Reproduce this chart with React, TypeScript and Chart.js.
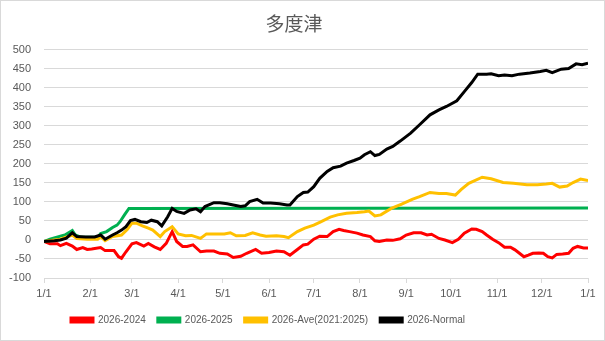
import React, { useEffect, useRef } from "react";
import { Chart, registerables } from "chart.js";

Chart.register(...registerables);

const monthStarts = [0, 31, 59, 90, 120, 151, 181, 212, 243, 273, 304, 334, 365];
const monthLabels = ["1/1", "2/1", "3/1", "4/1", "5/1", "6/1", "7/1", "8/1", "9/1", "10/1", "11/1", "12/1", "1/1"];

const seriesNames = ["2026-2024", "2026-2025", "2026-Ave(2021:2025)", "2026-Normal"];

const redDays = [0, 4, 9, 11, 15, 19, 22, 26, 29, 32, 38, 41, 47, 50, 52, 55, 59, 62, 67, 70, 74, 78, 82, 86, 89, 93, 96, 100, 105, 109, 114, 118, 123, 127, 132, 136, 142, 146, 151, 156, 161, 165, 170, 174, 177, 181, 185, 190, 194, 198, 201, 205, 210, 214, 219, 222, 225, 230, 234, 239, 243, 248, 253, 257, 260, 265, 269, 274, 278, 282, 287, 290, 294, 297, 301, 305, 309, 313, 316, 319, 322, 325, 328, 332, 335, 338, 341, 344, 348, 352, 355, 358, 362, 365];
const redValues = [-4, -10, -10, -15, -9, -16, -25, -20, -25, -24, -20, -28, -28, -44, -48, -31, -10, -7, -16, -9, -18, -25, -9, 22, -4, -17, -17, -13, -31, -29, -29, -35, -37, -46, -43, -35, -25, -35, -33, -29, -31, -40, -25, -13, -11, 2, 10, 9, 22, 28, 25, 22, 18, 13, 9, -2, -4, 0, -1, 3, 13, 19, 19, 13, 15, 4, 0, -7, 2, 18, 29, 28, 22, 13, 2, -7, -19, -19, -26, -35, -44, -40, -35, -34, -35, -44, -47, -38, -37, -35, -22, -17, -21, -21];

const greenDays = [0, 4, 11, 14, 19, 21, 25, 29, 36, 38, 42, 46, 49, 51, 54, 57, 365];
const greenValues = [-4, 2, 10, 13, 25, 13, 7, 7, 7, 17, 22, 33, 39, 48, 66, 83, 84];

const yellowDays = [0, 7, 11, 19, 22, 29, 36, 38, 41, 46, 52, 56, 59, 62, 66, 70, 73, 78, 81, 86, 90, 95, 99, 105, 109, 116, 121, 125, 129, 135, 140, 145, 149, 156, 161, 164, 170, 175, 181, 186, 192, 197, 203, 210, 215, 218, 222, 226, 233, 240, 247, 252, 259, 265, 270, 276, 280, 285, 294, 300, 308, 315, 324, 331, 337, 341, 346, 351, 355, 360, 365];
const yellowValues = [-4, 0, 2, 13, 4, 2, 2, 9, -2, 9, 13, 28, 44, 44, 37, 31, 26, 9, 22, 35, 16, 11, 12, 4, 16, 16, 16, 19, 11, 12, 19, 13, 10, 11, 9, 6, 22, 31, 39, 48, 60, 66, 70, 72, 74, 76, 63, 66, 83, 94, 107, 114, 125, 122, 122, 118, 133, 149, 165, 161, 151, 149, 145, 145, 147, 149, 139, 142, 151, 160, 156];

const blackDays = [0, 7, 11, 15, 19, 22, 28, 34, 38, 41, 46, 49, 52, 55, 58, 61, 65, 69, 72, 76, 79, 83, 86, 89, 94, 98, 102, 105, 108, 114, 118, 123, 127, 132, 135, 138, 143, 147, 152, 158, 163, 165, 170, 174, 177, 181, 185, 190, 194, 199, 203, 208, 212, 215, 219, 222, 225, 230, 234, 239, 246, 252, 259, 265, 270, 277, 282, 287, 291, 297, 300, 305, 309, 314, 319, 326, 333, 337, 341, 347, 352, 357, 361, 365];
const blackValues = [-4, -2, 0, 5, 19, 9, 8, 8, 13, 2, 13, 19, 26, 35, 51, 54, 48, 46, 52, 48, 37, 61, 83, 75, 70, 79, 82, 74, 88, 98, 98, 95, 92, 88, 90, 101, 107, 97, 97, 95, 92, 92, 114, 125, 126, 140, 162, 180, 190, 194, 202, 209, 215, 224, 232, 222, 225, 239, 246, 260, 281, 303, 329, 342, 351, 366, 390, 414, 436, 436, 437, 432, 434, 432, 436, 439, 443, 446, 440, 449, 451, 463, 461, 465];

const colors = ["#FF0000", "#00B050", "#FFC000", "#000000"];

const zip = (xs: number[], ys: number[]) => xs.map((x, i) => ({ x, y: ys[i] }));

const FONT = "'Liberation Sans', Arial, sans-serif";

const legendShift = {
  id: "legendShift",
  afterLayout(chart: any) {
    const lg = chart.legend;
    if (lg) {
      lg.left -= 26;
      lg.right -= 26;
    }
  },
};

export default function App() {
  const ref = useRef<HTMLCanvasElement | null>(null);

  useEffect(() => {
    if (!ref.current) return;
    const series = [
      zip(redDays, redValues),
      zip(greenDays, greenValues),
      zip(yellowDays, yellowValues),
      zip(blackDays, blackValues),
    ];
    const chart = new Chart(ref.current, {
      type: "line",
      data: {
        datasets: series.map((d, i) => ({
          label: seriesNames[i],
          data: d,
          borderColor: colors[i],
          backgroundColor: colors[i],
          borderWidth: 3,
          pointRadius: 0,
          tension: 0,
          order: 4 - i,
        })),
      },
      plugins: [legendShift],
      options: {
        animation: false,
        responsive: false,
        maintainAspectRatio: false,
        layout: { padding: { left: 0, right: 17, top: 0, bottom: 6 } },
        plugins: {
          title: {
            display: true,
            text: "多度津",
            color: "#595959",
            font: { family: "'Noto Sans CJK JP', sans-serif", size: 19, weight: "normal" },
            padding: { top: 12, bottom: 15 },
          },
          legend: {
            position: "bottom",
            labels: {
              boxWidth: 22,
              boxHeight: 4,
              padding: 12,
              color: "#595959",
              font: { family: FONT, size: 10 },
              sort: (a: any, b: any) => a.datasetIndex - b.datasetIndex,
            },
          },
          tooltip: { enabled: false },
        },
        scales: {
          x: {
            type: "linear",
            min: 0,
            max: 365,
            afterBuildTicks: (scale: any) => {
              scale.ticks = monthStarts.map((v) => ({ value: v }));
            },
            afterFit: (scale: any) => {
              scale.height = 25;
            },
            ticks: {
              autoSkip: false,
              maxRotation: 0,
              color: "#595959",
              font: { family: FONT, size: 11 },
              padding: 4,
              callback: (_v: any, i: number) => monthLabels[i],
            },
            grid: {
              drawOnChartArea: false,
              drawTicks: true,
              tickLength: 5,
              color: "#d9d9d9",
            },
            border: { display: true, color: "#d9d9d9" },
          },
          y: {
            min: -100,
            max: 500,
            afterFit: (scale: any) => {
              scale.width = 44;
            },
            ticks: {
              stepSize: 50,
              color: "#595959",
              font: { family: FONT, size: 11 },
              padding: 13,
            },
            grid: { color: "#d9d9d9", drawTicks: false },
            border: { display: false },
          },
        },
      },
    } as any);
    return () => chart.destroy();
  }, []);

  return (
    <div style={{ position: "fixed", left: 0, top: 0, width: 605, height: 341, background: "#fff" }}>
      <canvas ref={ref} width={605} height={341} style={{ display: "block", width: 605, height: 341 }} />
      <div
        style={{
          position: "absolute",
          left: 0,
          top: 0,
          width: 605,
          height: 341,
          boxSizing: "border-box",
          border: "1px solid #d9d9d9",
          pointerEvents: "none",
        }}
      />
    </div>
  );
}
